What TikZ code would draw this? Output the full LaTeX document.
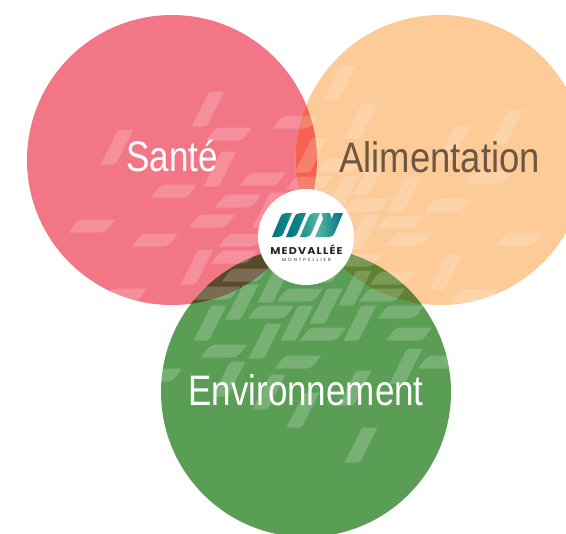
\documentclass[tikz,border=0pt]{standalone}
\usepackage{fontspec}
\setmainfont[FakeStretch=0.82]{Liberation Sans}
\newfontfamily\alimfont[FakeStretch=0.855]{Liberation Sans}
\newfontfamily\logofont[LetterSpace=12,FakeStretch=1.12]{Poppins}
\newfontfamily\logosmall[LetterSpace=45]{Poppins}
\definecolor{redc}{HTML}{F37686}
\definecolor{orac}{HTML}{FDCB97}
\definecolor{grnc}{HTML}{5A9E55}
\definecolor{redora}{HTML}{F5634F}
\definecolor{redgrn}{HTML}{5A4A2C}
\definecolor{oragrn}{HTML}{5E8231}
\definecolor{altxt}{HTML}{6E5742}
\definecolor{tealA}{HTML}{00727C}
\definecolor{tealB}{HTML}{1A8D8E}
\definecolor{tealC}{HTML}{5DBBA8}
\definecolor{logotxt}{HTML}{23232B}
\tikzset{
  patch/.style={fill=white,fill opacity=0.19,draw=none},
  title/.style={font=\fontsize{32}{38}\selectfont,anchor=base,inner sep=0pt},
}
\newcommand{\hpatch}[2]{\path[patch,shift={(#1,#2)}] (-23,6.5) -- (-17,-1.5) .. controls (-14,-5) and (-12,-6.5) .. (-7,-6.5) -- (23,-6.5) -- (17,1.5) .. controls (14,5) and (12,6.5) .. (7,6.5) -- cycle;}
\newcommand{\vpatch}[2]{\path[patch,shift={(#1,#2)}] (-16.5,17.5) -- (-3,-9) .. controls (-0.5,-15) and (1,-17.5) .. (4,-17.5) -- (16.5,-17.5) -- (3,9) .. controls (0.5,15) and (-1,17.5) .. (-4,17.5) -- cycle;}
\newcommand{\logobar}[3]{\shade[left color=#2,right color=#3,shift={(#1,0)}] (0,237) -- (8,218) .. controls (9.5,214.5) and (11,213) .. (14,213) -- (20,213) -- (12,232) .. controls (10.5,235.5) and (9,237) .. (6,237) -- cycle;}
\begin{document}
\begin{tikzpicture}[x=0.75pt,y=-0.75pt]
\useasboundingbox (0,0) rectangle (566,533);
\clip (0,0) rectangle (566,533);
% circles
\fill[redc] (172,160) circle[radius=145];
\fill[orac] (440.5,160) circle[radius=145];
\fill[grnc] (306,392) circle[radius=145];
\begin{scope}\clip (172,160) circle[radius=145];\fill[redora] (440.5,160) circle[radius=145];\end{scope}
\begin{scope}\clip (172,160) circle[radius=145];\fill[redgrn] (306,392) circle[radius=145];\end{scope}
\begin{scope}\clip (440.5,160) circle[radius=145];\fill[oragrn] (306,392) circle[radius=145];\end{scope}
% pattern
\foreach \a/\b in {229/134,296/122,263/179,174/191,238/201,212/221,92/226,155/240,242/240,234/257,124/295,245/275,217/293,340/165,309/183,366/205,448/205,400/222,409/239,520/239,474/296,489/177,359/260,393/278,382/295,300/295,271/312,401/312,323/334,409/334,224/351,298/362,159/375,441/362,318/276}{\hpatch{\a}{\b}}
\foreach \a/\b in {208/109,117/147,220/169,269/210,197/267,311/155,340/83,361/121,454/143,507/127,370/177,405/194,343/193,363/232,446/272,210/323,242/302,274/285,297/323,326/306,355/288,360/323,265/341,229/379,406/366,355/388,269/392,303/410,361/445}{\vpatch{\a}{\b}}
% titles
\node[title,text=white] (sante) at (172,171) {Santé};
\node[title,text=altxt] (alim) at (439.5,172) {\alimfont Alimentation};
\node[title,text=white] (env) at (306,405) {Environnement};
% logo
\fill[white] (306,237) circle[radius=48];
\logobar{272}{tealA}{tealB}
\logobar{286}{tealA}{tealB}
\logobar{300}{tealB}{tealC}
\shade[left color=tealC,right color=tealA] (315,237) -- (323,219) -- (321.5,213) -- (330,213) -- (331.5,219) -- (334,213) -- (343,213) -- (335,232) .. controls (333.5,235.5) and (332,237) .. (329,237) -- cycle;
\node[inner sep=0pt,anchor=base,text=logotxt] (medv) at (306.5,254.5) {\logofont\bfseries\fontsize{7.4}{9}\selectfont MEDVALLÉE};
\node[inner sep=0pt,anchor=base,text=logotxt] (mont) at (306.5,261.2) {\logosmall\fontsize{3.4}{4}\selectfont MONTPELLIER};
\end{tikzpicture}
\end{document}
